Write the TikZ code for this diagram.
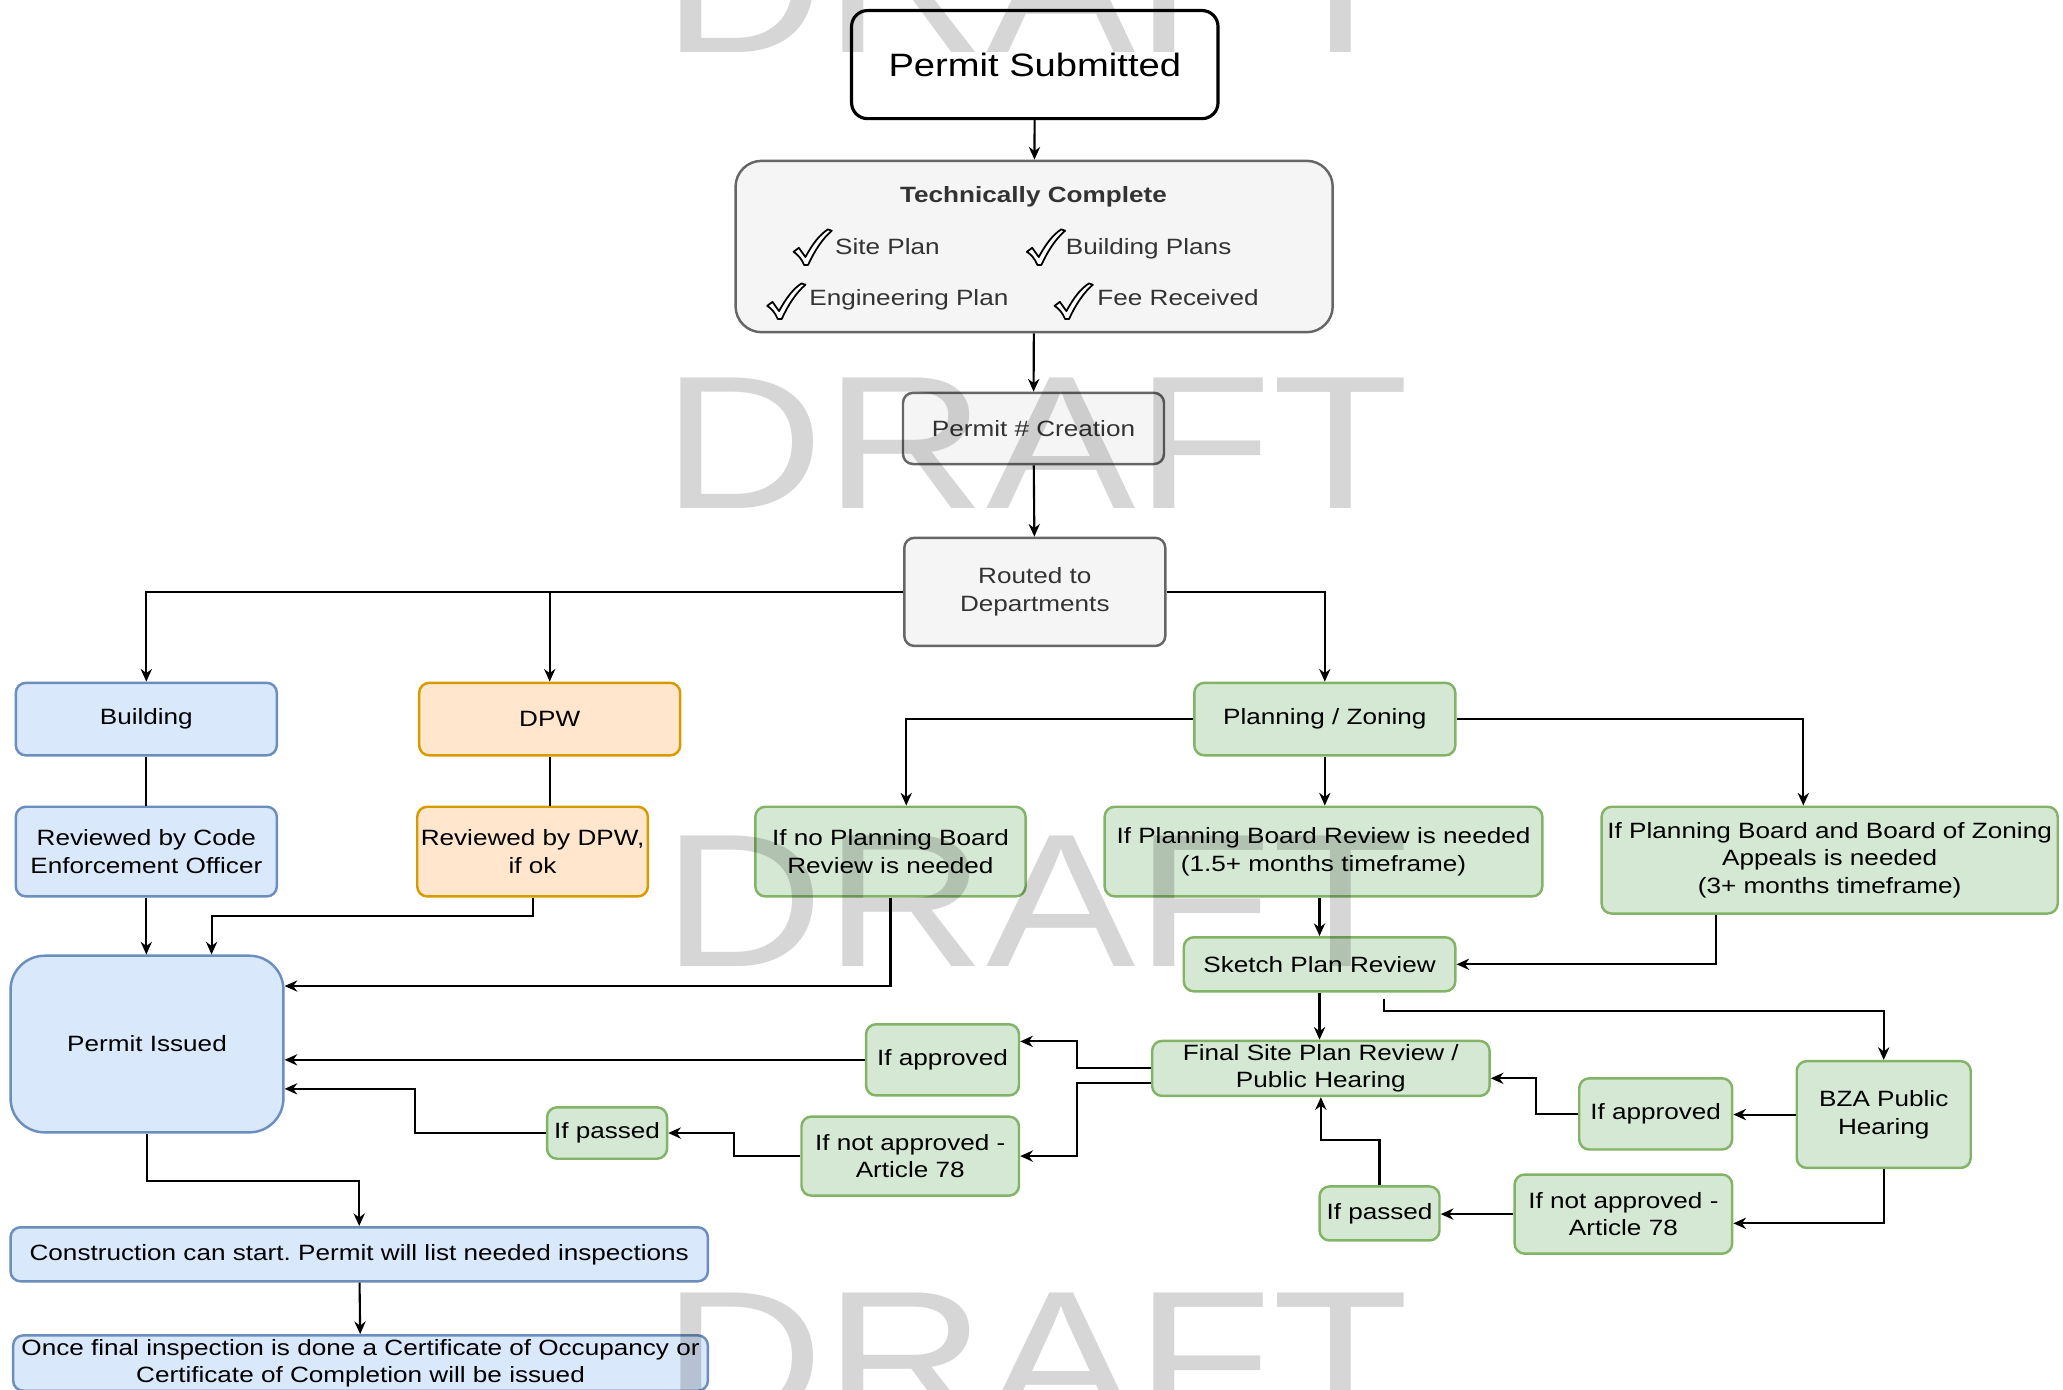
\documentclass[tikz,border=0pt]{standalone}
\usepackage{fontspec}
\setmainfont[FakeStretch=1.18]{Liberation Sans}
\usetikzlibrary{arrows.meta,calc,positioning}
\definecolor{grayfill}{HTML}{F5F5F5}
\definecolor{graydraw}{HTML}{666666}
\definecolor{graytext}{HTML}{333333}
\definecolor{bluefill}{HTML}{DAE8FC}
\definecolor{bluedraw}{HTML}{6C8EBF}
\definecolor{orangefill}{HTML}{FFE6CC}
\definecolor{orangedraw}{HTML}{D79B00}
\definecolor{greenfill}{HTML}{D5E8D4}
\definecolor{greendraw}{HTML}{82B366}
\tikzset{checkmk/.pic={
  \draw[fill=white, line width=0.5pt, line join=round] (0,17) .. controls (2,15) .. (4,14) -- (9,21)
    .. controls (15,10) and (20,4) .. (26,0) -- (29,1) .. controls (22,7) and (16,16) .. (11,27)
    -- (8,27) .. controls (6,22) and (3,19) .. (0,17) -- cycle;}}
\frenchspacing
\begin{document}
\begin{tikzpicture}[x=0.01318cm, y=-0.01318cm,
  sz/.style 2 args={minimum width=#1*0.01318cm, minimum height=#2*0.01318cm},
  flowbox/.style={draw, rectangle, rounded corners=1mm, line width=0.7pt, align=center, inner sep=1pt, font=\fontsize{6.3}{7.8}\selectfont},
  gbox/.style={flowbox, fill=grayfill, draw=graydraw, text=graytext},
  bbox/.style={flowbox, fill=bluefill, draw=bluedraw},
  obox/.style={flowbox, fill=orangefill, draw=orangedraw},
  pbox/.style={flowbox, fill=greenfill, draw=greendraw},
  item/.style={anchor=base west, inner sep=0pt, font=\fontsize{6.3}{7.8}\selectfont, text=graytext},
  arr/.style={-{Stealth[length=3.6pt,width=3.2pt]}, line width=0.6pt},
  link/.style={line width=0.6pt},
  draft/.style={anchor=base, inner sep=0pt, font=\fontsize{54}{54}\selectfont, text=black, text opacity=0.16}]
\useasboundingbox (0,0) rectangle (1565,1054);

% main column
\node[flowbox, sz={278}{82}, rounded corners=1.6mm, fill=white, line width=0.9pt, font=\fontsize{9.2}{11}\selectfont] (sub) at (785,49) {Permit Submitted};
\node[gbox, sz={453}{130}, rounded corners=2.6mm] (tech) at (784.5,187) {};
\node[item, anchor=base, font=\fontsize{6.3}{7.8}\selectfont\bfseries] (techt) at (784,153.8) {Technically Complete};
\pic at (602,174) {checkmk};
\node[item] (sitep) at (633,192.7) {Site Plan};
\pic at (779,174) {checkmk};
\node[item] (bldgp) at (808,192.7) {Building Plans};
\pic at (582,215) {checkmk};
\node[item] (engp) at (613.5,232) {Engineering Plan};
\pic at (800,215) {checkmk};
\node[item] (feep) at (832,232) {Fee Received};
\node[gbox, sz={198}{54}] (creat) at (784,325) {Permit \# Creation};
\node[gbox, sz={198}{82}] (routed) at (785,449) {Routed to\\Departments};

% departments
\node[bbox, sz={198}{55}] (bldg) at (111,545.5) {Building};
\node[obox, sz={198}{55}] (dpw) at (417,545.5) {DPW};
\node[pbox, sz={198}{55}] (plan) at (1005,545.5) {Planning / Zoning};
\node[bbox, sz={198}{68}] (revcode) at (111,646) {Reviewed by Code\\Enforcement Officer};
\node[obox, sz={172}{68}] (revdpw) at (404,646) {Reviewed by DPW,\\if ok};
\node[pbox, sz={205}{68}] (nopb) at (675.5,646) {If no Planning Board\\Review is needed};
\node[pbox, sz={332}{68}] (pb) at (1004,646) {If Planning Board Review is needed\\(1.5+ months timeframe)};
\node[pbox, sz={346}{81}] (pbza) at (1388,652.5) {If Planning Board and Board of Zoning\\Appeals is needed\\(3+ months timeframe)};
\node[pbox, sz={206}{41}] (sketch) at (1001,731.5) {Sketch Plan Review};
\node[bbox, sz={207}{134}, rounded corners=3.4mm] (issued) at (111.5,792) {Permit Issued};
\node[pbox, sz={116}{54}] (appl) at (715,804) {If approved};
\node[pbox, sz={256}{41}] (final) at (1002,810.5) {Final Site Plan Review /\\Public Hearing};
\node[pbox, sz={132}{81}] (bza) at (1429,845.5) {BZA Public\\Hearing};
\node[pbox, sz={116}{54}] (appr) at (1256,845) {If approved};
\node[pbox, sz={91}{39}] (passl) at (460.5,859.5) {If passed};
\node[pbox, sz={165}{60}] (notl) at (690.5,877) {If not approved -\\Article 78};
\node[pbox, sz={91}{41}] (passr) at (1046.5,920.5) {If passed};
\node[pbox, sz={165}{60}] (notr) at (1231.5,921) {If not approved -\\Article 78};
\node[bbox, sz={529}{41}] (constr) at (272.5,951.5) {Construction can start. Permit will list needed inspections};
\node[bbox, sz={527}{42}] (cert) at (273.5,1034) {Once final inspection is done a Certificate of Occupancy or\\Certificate of Completion will be issued};

% connectors
\draw[arr] (sub) -- (tech);
\draw[arr] (tech) -- (creat);
\draw[arr] (creat) -- (routed);
\draw[arr] (routed.west) -| (bldg.north);
\draw[arr] (routed.west) -| (dpw.north);
\draw[arr] (routed.east) -| (plan.north);
\draw[link] (bldg) -- (revcode);
\draw[link] (dpw.south) -- (dpw.south |- revdpw.north);
\draw[arr] (revcode.south) -- (revcode.south |- issued.north);
\draw[arr] (revdpw.south) -- ++(0,14) -| ($(issued.north)+(49,0)$);
\draw[arr] (nopb.south) |- ($(issued.east)+(0,-44)$);
\draw[arr] (plan.west) -| ($(nopb.north)+(12,0)$);
\draw[arr] (plan.south) -- (plan.south |- pb.north);
\draw[arr] (plan.east) -| ($(pbza.north)+(-20,0)$);
\draw[arr] (sketch.north |- pb.south) -- (sketch.north);
\draw[arr] ($(pbza.south)+(-86,0)$) |- (sketch.east);
\draw[arr] (sketch.south) -- (sketch.south |- final.north);
\draw[arr] ($(sketch.south)+(49,5)$) -- ++(0,9) -| (bza.north);
\draw[arr] (final.west) -- ++(-56,0) |- ($(appl.east)+(0,-14)$);
\draw[arr] ($(final.west)+(0,11)$) -- ++(-56,0) |- (notl.east);
\draw[arr] (appl.west) -- (appl.west -| issued.east);
\draw[arr] (notl.west) -- ++(-50,0) |- (passl.east);
\draw[arr] (passl.west) -- ++(-99,0) |- ($(issued.east)+(0,34)$);
\draw[arr] (bza.west) -- (bza.west -| appr.east);
\draw[arr] (appr.west) -- ++(-32,0) |- ($(final.east)+(0,7.5)$);
\draw[arr] (bza.south) |- ($(notr.east)+(0,7)$);
\draw[arr] (notr.west) -- (notr.west -| passr.east);
\draw[arr] (passr.north) -- ++(0,-34) -| (final.south);
\draw[arr] (issued.south) -- ++(0,36) -| (constr.north);
\draw[arr] (constr) -- (cert);

% watermark
\node[draft] (dr1) at (786,39.5) {DRAFT};
\node[draft] (dr2) at (786,386) {DRAFT};
\node[draft] (dr3) at (786,733.5) {DRAFT};
\node[draft] (dr4) at (786,1080) {DRAFT};
\end{tikzpicture}
\end{document}
